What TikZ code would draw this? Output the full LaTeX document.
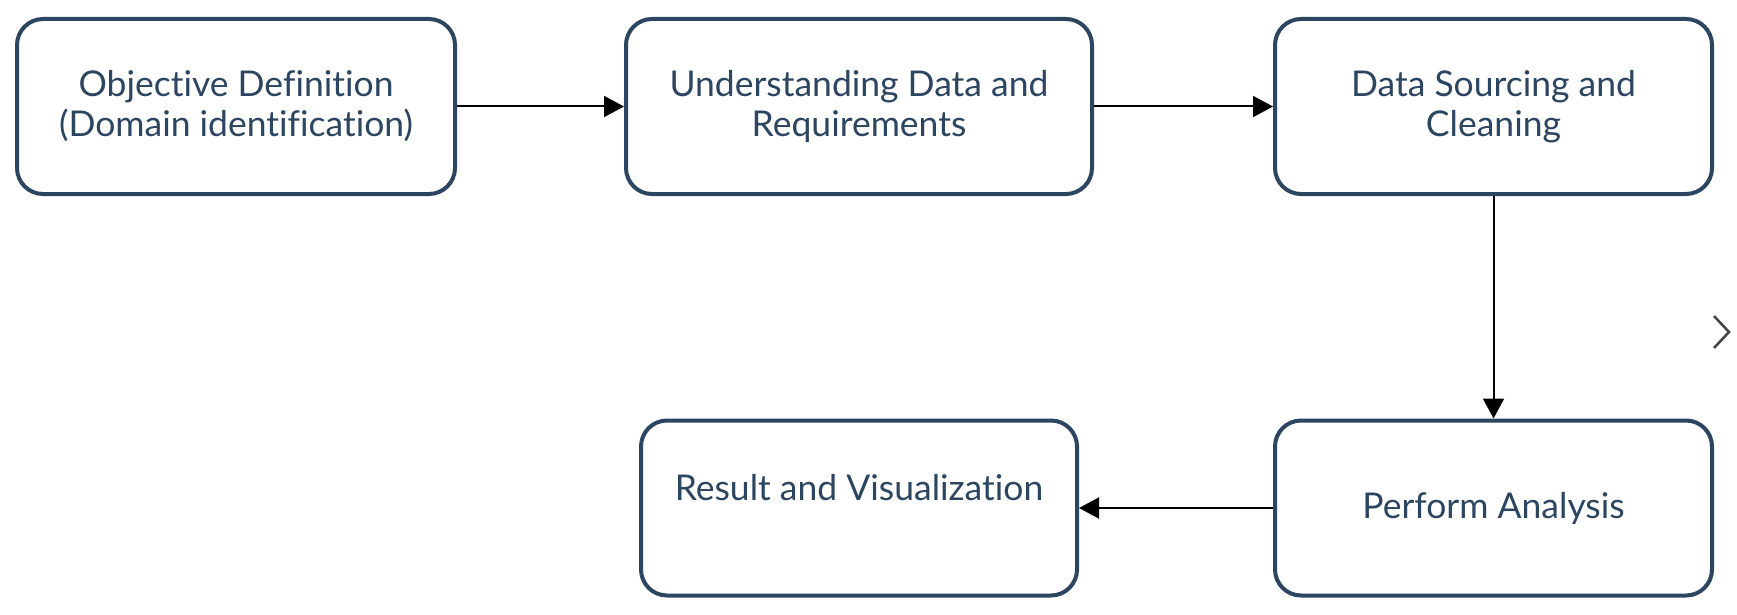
\documentclass[tikz,border=0pt]{standalone}
\usepackage{fontspec}
\setmainfont[Ligatures={NoCommon}]{Lato}
\usetikzlibrary{arrows.meta}
\definecolor{boxblue}{RGB}{44,69,96}
\definecolor{chev}{RGB}{68,68,68}
\tikzset{
  stepbox/.style={draw=boxblue, line width=4pt, rounded corners=26pt, fill=white,
    text=boxblue, align=center, inner sep=0pt, minimum height=175pt,
    font=\fontsize{35.5}{40}\selectfont},
  conn/.style={line width=2pt, -{Triangle[length=20pt,width=21pt]}},
}
\begin{document}
\begin{tikzpicture}[x=1pt,y=-1pt]
\useasboundingbox (0,0) rectangle (1737,615);
\node[stepbox, minimum width=438pt] (b1) at (236,106.5) {Objective Definition\\(Domain identification)};
\node[stepbox, minimum width=466pt] (b2) at (859,106.5) {Understanding Data and\\Requirements};
\node[stepbox, minimum width=437pt] (b3) at (1493.5,106.5) {Data Sourcing and\\Cleaning};
\node[stepbox, minimum width=437pt] (b5) at (1493.5,508) {Perform Analysis};
\node[stepbox, minimum width=436pt] (b4) at (859,508) {};
\node[text=boxblue, inner sep=0pt, font=\fontsize{35.5}{40}\selectfont] (b4t) at (859,488) {Result and Visualization};
\draw[conn] (b1.east) -- (b2.west);
\draw[conn] (b2.east) -- (b3.west);
\draw[conn] (b3.south) -- (b5.north);
\draw[conn] (b5.west) -- (b4.east);
\coordinate (c1) at (1714,316);
\coordinate (c2) at (1729,332);
\coordinate (c3) at (1714,348);
\draw[chev, line width=2.5pt] (c1) -- (c2) -- (c3);
\end{tikzpicture}
\end{document}
